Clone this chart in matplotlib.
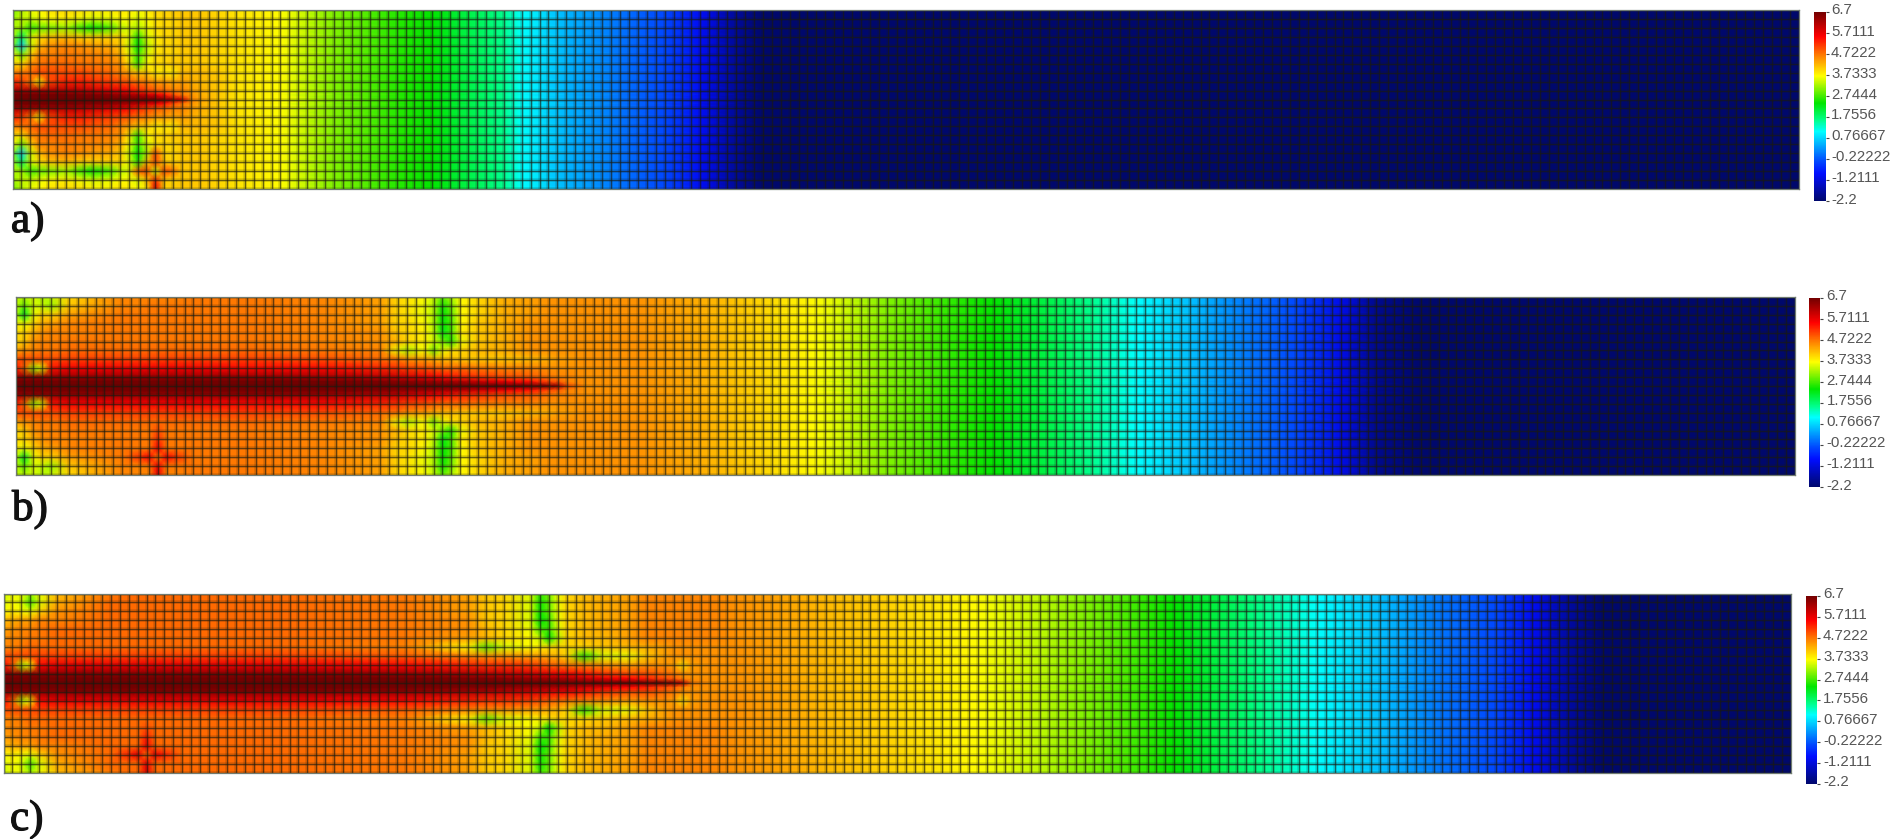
#!/usr/bin/env python3
"""Three crack-growth contour panels on a 200 x 20 mesh, rainbow scale -2.2 .. 6.7"""

import numpy as np
import matplotlib
matplotlib.use("Agg")
import matplotlib.pyplot as plt
import matplotlib.patheffects as pe
from matplotlib.colors import LinearSegmentedColormap

W, H = 1894, 839
VMIN, VMAX = -2.2, 6.7

cbar_ticks = [6.7, 5.7111, 4.7222, 3.7333, 2.7444, 1.7556, 0.76667, -0.22222, -1.2111, -2.2]
cbar_labels = ["6.7", "5.7111", "4.7222", "3.7333", "2.7444", "1.7556", "0.76667", "-0.22222", "-1.2111", "-2.2"]

# colour scale as seen on the reference colour bars
scale_vals = [-2.2, -0.9, -0.34, 1.07, 1.6, 2.41, 3.69, 4.7, 5.54, 6.7]
scale_cols = ["#00086c", "#000dff", "#0047ff", "#00ffff", "#00ff8c", "#00e600",
              "#ffff00", "#ff7800", "#ff0000", "#730000"]

# upper half of the mesh, rows counted from the top edge, row 10 is the crack line
half_rows = [0, 1, 2, 3, 4, 5, 6, 7, 8, 9, 9.5, 10]

# ---- panel a ----
a_near_x = [0, 1, 2, 3, 4, 6, 8, 9, 11, 12, 13, 14, 15, 16, 17, 18, 19, 20, 21, 23]
a_near = [
    [3.0, 3.3, 3.6, 3.7, 3.9, 4.0, 3.9, 3.8, 3.8, 3.9, 3.8, 3.7, 3.8, 4.0, 4.0, 4.1, 4.1, 4.1, 4.1, 4.0],
    [3.2, 3.4, 3.4, 3.6, 3.7, 3.8, 3.6, 3.5, 3.6, 3.7, 3.7, 3.5, 3.7, 3.9, 4.0, 4.0, 4.1, 4.1, 4.1, 4.0],
    [3.3, 3.2, 2.7, 2.9, 3.0, 3.2, 2.6, 2.4, 2.8, 3.3, 3.5, 3.3, 3.6, 3.9, 4.0, 4.0, 4.1, 4.1, 4.1, 4.0],
    [3.3, 1.8, 3.5, 3.9, 4.1, 4.2, 4.0, 4.0, 4.0, 4.0, 3.6, 2.6, 3.5, 3.8, 4.0, 4.0, 4.1, 4.1, 4.1, 4.0],
    [3.0, 0.7, 3.4, 4.2, 4.5, 4.6, 4.5, 4.4, 4.3, 4.1, 3.5, 2.4, 3.3, 3.8, 4.0, 4.0, 4.1, 4.1, 4.1, 4.0],
    [3.7, 3.0, 4.0, 4.6, 4.6, 4.7, 4.6, 4.6, 4.5, 4.3, 3.7, 2.7, 3.5, 3.9, 4.0, 4.0, 4.1, 4.1, 4.1, 4.0],
    [4.0, 3.9, 4.5, 4.7, 4.8, 4.8, 4.7, 4.7, 4.6, 4.5, 3.9, 2.7, 3.7, 4.0, 4.0, 4.1, 4.1, 4.1, 4.1, 4.0],
    [4.6, 4.7, 4.8, 5.0, 5.0, 5.0, 5.0, 4.9, 4.8, 4.6, 4.4, 4.1, 4.1, 3.8, 3.9, 3.8, 4.2, 4.2, 4.2, 4.1],
    [5.3, 5.1, 4.7, 3.8, 5.0, 5.3, 5.3, 5.2, 5.1, 5.0, 4.9, 4.7, 4.6, 4.4, 4.4, 4.3, 4.4, 4.3, 4.2, 4.1],
    [6.3, 6.3, 6.2, 6.2, 6.2, 6.2, 6.1, 6.0, 5.8, 5.7, 5.5, 5.3, 5.1, 4.9, 4.8, 4.6, 4.6, 4.4, 4.3, 4.1],
    [6.7, 6.7, 6.7, 6.7, 6.7, 6.7, 6.6, 6.6, 6.5, 6.4, 6.3, 6.2, 6.0, 5.8, 5.4, 5.0, 4.7, 4.5, 4.3, 4.1],
    [6.7, 6.7, 6.7, 6.7, 6.7, 6.7, 6.7, 6.7, 6.7, 6.7, 6.7, 6.7, 6.7, 6.7, 6.5, 6.3, 5.8, 4.6, 4.4, 4.1],
]
a_far_x = [25, 30, 36, 43, 47, 51, 55, 57, 62, 68, 73, 77, 81, 84, 200]
a_far = [3.9, 3.7, 3.05, 2.6, 2.41, 2.0, 1.6, 1.07, 0.5, 0.0, -0.34, -1.0, -1.8, -2.2, -2.2]
a_cross_col = [16, 16, 16, 16, 16, 14, 15, 17, 18, 15, 17, 15, 17]
a_cross_row = [16, 17, 18, 19, 20, 18, 18, 18, 18, 17, 17, 19, 19]
a_cross_val = [5.0, 5.0, 3.4, 5.2, 5.7, 4.8, 5.0, 5.0, 4.7, 4.1, 4.1, 4.1, 4.1]

# ---- panel b ----
b_near_x = [0, 1, 2, 3, 4, 6, 12, 14, 15, 16, 17, 18, 20, 26, 34, 41, 43, 44, 46, 47, 48, 49, 50, 52, 55, 58, 60, 61, 62, 64, 68]
b_near = [
    [3.4, 3.3, 3.5, 3.3, 3.4, 4.0, 4.6, 4.6, 4.6, 4.6, 4.6, 4.6, 4.7, 4.7, 4.6, 4.4, 4.0, 3.9, 3.7, 3.4, 2.9, 3.3, 3.7, 4.0, 4.3, 4.4, 4.5, 4.5, 4.5, 4.5, 4.5],
    [3.4, 2.9, 3.5, 3.4, 3.2, 4.1, 4.6, 4.6, 4.7, 4.7, 4.7, 4.7, 4.7, 4.7, 4.6, 4.4, 4.0, 3.9, 3.6, 3.3, 2.5, 3.0, 3.7, 4.0, 4.3, 4.4, 4.5, 4.5, 4.5, 4.5, 4.5],
    [3.4, 2.2, 3.6, 4.0, 4.0, 4.4, 4.7, 4.7, 4.7, 4.7, 4.7, 4.7, 4.7, 4.7, 4.6, 4.4, 4.0, 3.9, 3.6, 3.3, 2.4, 2.9, 3.7, 4.0, 4.3, 4.4, 4.5, 4.5, 4.5, 4.5, 4.5],
    [3.8, 3.6, 4.0, 4.3, 4.4, 4.6, 4.7, 4.7, 4.7, 4.7, 4.7, 4.7, 4.7, 4.7, 4.6, 4.4, 4.0, 4.0, 3.7, 3.3, 2.4, 2.8, 3.7, 4.1, 4.3, 4.5, 4.5, 4.5, 4.5, 4.5, 4.5],
    [4.0, 4.0, 4.3, 4.5, 4.6, 4.6, 4.7, 4.7, 4.7, 4.7, 4.7, 4.7, 4.7, 4.7, 4.6, 4.5, 4.1, 4.0, 3.8, 3.4, 2.3, 2.8, 3.8, 4.1, 4.3, 4.5, 4.5, 4.5, 4.5, 4.5, 4.5],
    [4.0, 4.1, 4.5, 4.6, 4.6, 4.7, 4.7, 4.7, 4.7, 4.7, 4.7, 4.7, 4.7, 4.7, 4.6, 4.5, 4.2, 4.0, 3.8, 3.5, 3.0, 2.6, 3.6, 4.1, 4.3, 4.5, 4.5, 4.5, 4.5, 4.5, 4.5],
    [4.4, 4.5, 4.6, 4.7, 4.7, 4.8, 4.8, 4.8, 4.8, 4.8, 4.8, 4.8, 4.8, 4.8, 4.7, 4.6, 3.6, 3.3, 3.7, 3.0, 3.6, 3.9, 4.0, 4.2, 4.3, 4.5, 4.5, 4.5, 4.5, 4.5, 4.5],
    [5.0, 5.0, 5.0, 5.0, 5.0, 5.1, 5.1, 5.1, 5.1, 5.1, 5.1, 5.1, 5.1, 5.1, 5.0, 4.8, 4.7, 4.5, 4.4, 4.3, 4.2, 4.2, 4.1, 4.1, 4.1, 4.2, 4.3, 4.4, 4.4, 4.5, 4.5],
    [5.4, 4.8, 3.2, 3.6, 5.4, 5.6, 5.6, 5.6, 5.6, 5.6, 5.6, 5.6, 5.6, 5.5, 5.5, 5.3, 5.2, 5.1, 5.0, 4.9, 4.8, 4.8, 4.8, 4.7, 4.6, 4.6, 4.5, 4.5, 4.5, 4.5, 4.5],
    [6.4, 6.4, 6.4, 6.4, 6.4, 6.4, 6.4, 6.4, 6.4, 6.4, 6.4, 6.4, 6.4, 6.4, 6.3, 6.1, 6.0, 5.9, 5.7, 5.6, 5.5, 5.4, 5.3, 5.2, 5.0, 4.9, 4.7, 4.6, 4.6, 4.5, 4.5],
    [6.7, 6.7, 6.7, 6.7, 6.7, 6.7, 6.7, 6.7, 6.7, 6.7, 6.7, 6.7, 6.7, 6.7, 6.7, 6.6, 6.5, 6.5, 6.4, 6.4, 6.3, 6.3, 6.2, 6.0, 5.7, 5.4, 5.0, 4.9, 4.6, 4.5, 4.5],
    [6.7, 6.7, 6.7, 6.7, 6.7, 6.7, 6.7, 6.7, 6.7, 6.7, 6.7, 6.7, 6.7, 6.7, 6.7, 6.7, 6.7, 6.7, 6.7, 6.7, 6.7, 6.7, 6.7, 6.7, 6.7, 6.7, 6.5, 6.2, 5.0, 4.5, 4.5],
]
b_far_x = [70, 77, 84, 90, 98, 104, 110, 116, 121, 126, 133, 139, 144, 149, 153, 158, 200]
b_far = [4.5, 4.3, 4.0, 3.7, 3.05, 2.7, 2.41, 2.0, 1.6, 1.07, 0.5, 0.0, -0.34, -1.1, -1.9, -2.2, -2.2]
b_cross_col = [16, 16, 16, 16, 16, 14, 15, 17, 18]
b_cross_row = [15, 16, 17, 19, 20, 18, 18, 18, 18]
b_cross_val = [5.0, 5.2, 5.5, 5.5, 5.7, 5.2, 5.5, 5.5, 5.2]

# ---- panel c ----
c_near_x = [0, 1, 2, 3, 4, 6, 12, 14, 15, 16, 17, 18, 20, 30, 45, 52, 54, 56, 59, 60, 61, 62, 63, 65, 67, 70, 72, 74, 75, 76, 77, 79, 82]
c_near = [
    [3.4, 3.6, 3.6, 3.2, 3.6, 4.2, 4.7, 4.8, 4.8, 4.8, 4.8, 4.8, 4.8, 4.8, 4.7, 4.4, 4.1, 4.0, 3.5, 2.7, 3.0, 3.6, 4.0, 4.2, 4.3, 4.4, 4.6, 4.6, 4.6, 4.6, 4.6, 4.6, 4.5],
    [3.5, 3.7, 3.5, 2.8, 3.5, 4.3, 4.8, 4.8, 4.8, 4.8, 4.8, 4.8, 4.8, 4.8, 4.7, 4.4, 4.1, 4.0, 3.5, 2.5, 2.9, 3.6, 4.0, 4.2, 4.3, 4.4, 4.6, 4.6, 4.6, 4.6, 4.6, 4.6, 4.5],
    [3.7, 3.8, 3.7, 3.6, 4.0, 4.5, 4.8, 4.8, 4.8, 4.8, 4.8, 4.8, 4.8, 4.8, 4.7, 4.4, 4.1, 4.0, 3.5, 2.5, 2.9, 3.6, 4.0, 4.2, 4.3, 4.4, 4.6, 4.6, 4.6, 4.6, 4.6, 4.6, 4.5],
    [4.2, 4.3, 4.4, 4.4, 4.6, 4.6, 4.8, 4.8, 4.8, 4.8, 4.8, 4.8, 4.8, 4.8, 4.7, 4.5, 4.1, 4.0, 3.5, 2.4, 2.7, 3.6, 4.0, 4.2, 4.3, 4.4, 4.6, 4.6, 4.6, 4.6, 4.6, 4.6, 4.5],
    [4.4, 4.5, 4.6, 4.6, 4.7, 4.8, 4.8, 4.8, 4.8, 4.8, 4.8, 4.8, 4.8, 4.8, 4.7, 4.5, 4.2, 4.0, 3.6, 2.8, 2.7, 3.5, 4.0, 4.2, 4.3, 4.4, 4.6, 4.6, 4.6, 4.6, 4.6, 4.6, 4.5],
    [4.5, 4.6, 4.6, 4.7, 4.7, 4.8, 4.8, 4.8, 4.8, 4.8, 4.8, 4.8, 4.8, 4.8, 4.7, 4.4, 4.2, 4.0, 3.7, 3.4, 2.4, 3.3, 4.0, 4.2, 4.2, 4.4, 4.6, 4.6, 4.6, 4.6, 4.6, 4.6, 4.5],
    [4.6, 4.6, 4.7, 4.8, 4.8, 4.8, 4.8, 4.8, 4.8, 4.8, 4.8, 4.8, 4.8, 4.8, 4.6, 3.7, 2.9, 3.5, 3.7, 3.8, 3.9, 4.0, 4.0, 4.0, 4.1, 4.2, 4.3, 4.4, 4.5, 4.5, 4.5, 4.5, 4.5],
    [5.0, 5.0, 5.0, 5.0, 5.1, 5.1, 5.1, 5.1, 5.1, 5.1, 5.1, 5.1, 5.1, 5.1, 4.9, 4.6, 4.5, 4.5, 4.4, 4.4, 4.3, 4.2, 4.0, 2.6, 3.5, 3.6, 4.1, 4.4, 4.5, 4.5, 4.5, 4.5, 4.5],
    [5.5, 4.9, 3.3, 3.7, 5.5, 5.7, 5.7, 5.7, 5.7, 5.7, 5.7, 5.7, 5.7, 5.7, 5.5, 5.3, 5.2, 5.2, 5.1, 5.0, 4.9, 4.8, 4.7, 4.6, 4.5, 4.4, 4.5, 4.5, 4.4, 3.9, 4.4, 4.5, 4.5],
    [6.5, 6.5, 6.5, 6.5, 6.5, 6.5, 6.5, 6.5, 6.5, 6.5, 6.5, 6.5, 6.5, 6.5, 6.4, 6.2, 6.1, 6.0, 5.9, 5.8, 5.7, 5.6, 5.6, 5.4, 5.2, 5.0, 5.0, 4.8, 4.7, 4.5, 4.5, 4.5, 4.5],
    [6.7, 6.7, 6.7, 6.7, 6.7, 6.7, 6.7, 6.7, 6.7, 6.7, 6.7, 6.7, 6.7, 6.7, 6.7, 6.6, 6.6, 6.5, 6.4, 6.4, 6.3, 6.3, 6.2, 6.0, 5.8, 5.5, 5.3, 5.0, 4.9, 4.6, 4.5, 4.5, 4.5],
    [6.7, 6.7, 6.7, 6.7, 6.7, 6.7, 6.7, 6.7, 6.7, 6.7, 6.7, 6.7, 6.7, 6.7, 6.7, 6.7, 6.7, 6.7, 6.7, 6.7, 6.7, 6.7, 6.7, 6.7, 6.7, 6.7, 6.7, 6.7, 6.5, 6.0, 4.7, 4.5, 4.5],
]
c_far_x = [86, 92, 100, 109, 115, 121, 127, 131, 136, 141, 147, 155, 161, 167, 171, 175, 179, 200]
c_far = [4.4, 4.2, 4.0, 3.7, 3.4, 3.05, 2.7, 2.41, 2.0, 1.6, 1.07, 0.5, 0.0, -0.34, -1.0, -1.7, -2.2, -2.2]
c_cross_col = [16, 16, 16, 16, 16, 14, 15, 17, 18]
c_cross_row = [15, 16, 17, 19, 20, 18, 18, 18, 18]
c_cross_val = [5.0, 5.3, 5.6, 5.6, 5.8, 5.3, 5.7, 5.7, 5.3]

# pixel boxes of the reference: left, top, right, bottom
panels = [
    dict(name="a)", near_x=a_near_x, near=a_near, far_x=a_far_x, far=a_far,
         cross=(a_cross_col, a_cross_row, a_cross_val),
         box=(12.5, 10, 1799, 189), cbox=(1814, 12, 1826, 201), tx=1831, lab=(11, 232)),
    dict(name="b)", near_x=b_near_x, near=b_near, far_x=b_far_x, far=b_far,
         cross=(b_cross_col, b_cross_row, b_cross_val),
         box=(15.5, 297, 1794.5, 475), cbox=(1809, 298, 1820, 487), tx=1826.5, lab=(12, 520)),
    dict(name="c)", near_x=c_near_x, near=c_near, far_x=c_far_x, far=c_far,
         cross=(c_cross_col, c_cross_row, c_cross_val),
         box=(3.5, 593.5, 1791, 772.5), cbox=(1806, 596, 1817, 784), tx=1823, lab=(10, 830)),
]

stops = [(v - VMIN) / (VMAX - VMIN) for v in scale_vals]
rainbow = LinearSegmentedColormap.from_list("rainbow_fe", list(zip(stops, scale_cols)), N=512)


def px_axes(fig, box):
    l, t, r, b = box
    return fig.add_axes([l / W, 1 - b / H, (r - l) / W, (b - t) / H])


def full_field(p):
    """mirror the upper half, append the far field (same value over the height)"""
    top = np.array(p["near"], dtype=float)
    rows = np.array(half_rows, dtype=float)
    y = np.concatenate([rows, 20 - rows[-2::-1]])
    near = np.vstack([top, top[-2::-1]])
    far = np.tile(np.array(p["far"], dtype=float), (len(y), 1))
    x = np.array(list(p["near_x"]) + list(p["far_x"]), dtype=float)
    z = np.hstack([near, far])
    for col, row, val in zip(*p["cross"]):
        z[np.where(y == row)[0][0], np.where(x == col)[0][0]] = val
    return x, y, z


fig = plt.figure(figsize=(W / 100, H / 100), dpi=100, facecolor="white")

for p in panels:
    ax = px_axes(fig, p["box"])
    x, y, z = full_field(p)
    mesh = ax.pcolormesh(x, y, z, cmap=rainbow, vmin=VMIN, vmax=VMAX, shading="gouraud", rasterized=True)
    # soft halo + core, the mesh lines are blurred in the source image
    ax.vlines(np.arange(201), 0, 20, color="#1a1a10", lw=2.6, alpha=0.16)
    ax.hlines(np.arange(21), 0, 200, color="#1a1a10", lw=2.6, alpha=0.16)
    ax.vlines(np.arange(201), 0, 20, color="#1a1a10", lw=0.9, alpha=0.6)
    ax.hlines(np.arange(21), 0, 200, color="#1a1a10", lw=0.9, alpha=0.6)
    ax.set_xlim(0, 200)
    ax.set_ylim(20, 0)
    ax.set_xticks([])
    ax.set_yticks([])
    for s in ax.spines.values():
        s.set_color("#6f7a70")
        s.set_linewidth(0.9)

    cax = px_axes(fig, p["cbox"])
    cb = fig.colorbar(mesh, cax=cax, ticks=cbar_ticks)
    cb.ax.set_yticklabels([])
    cb.ax.tick_params(length=2, width=0.8, color="#444444", direction="out", pad=0)
    cb.outline.set_visible(False)
    for val, lab in zip(cbar_ticks, cbar_labels):
        yy = (VMAX - val) / (VMAX - VMIN)
        ty = p["cbox"][1] - 1.5 + yy * (p["cbox"][3] - p["cbox"][1])
        fig.text(p["tx"] / W, 1 - ty / H, lab, family="Liberation Sans", fontsize=10.8,
                 color="#555555", ha="left", va="center")

    t = fig.text(p["lab"][0] / W, 1 - p["lab"][1] / H, p["name"], family="Liberation Serif",
                 fontsize=31, color="#111111", ha="left", va="baseline")
    t.set_path_effects([pe.withStroke(linewidth=0.9, foreground="#111111")])

fig.savefig("out.png", dpi=100)
